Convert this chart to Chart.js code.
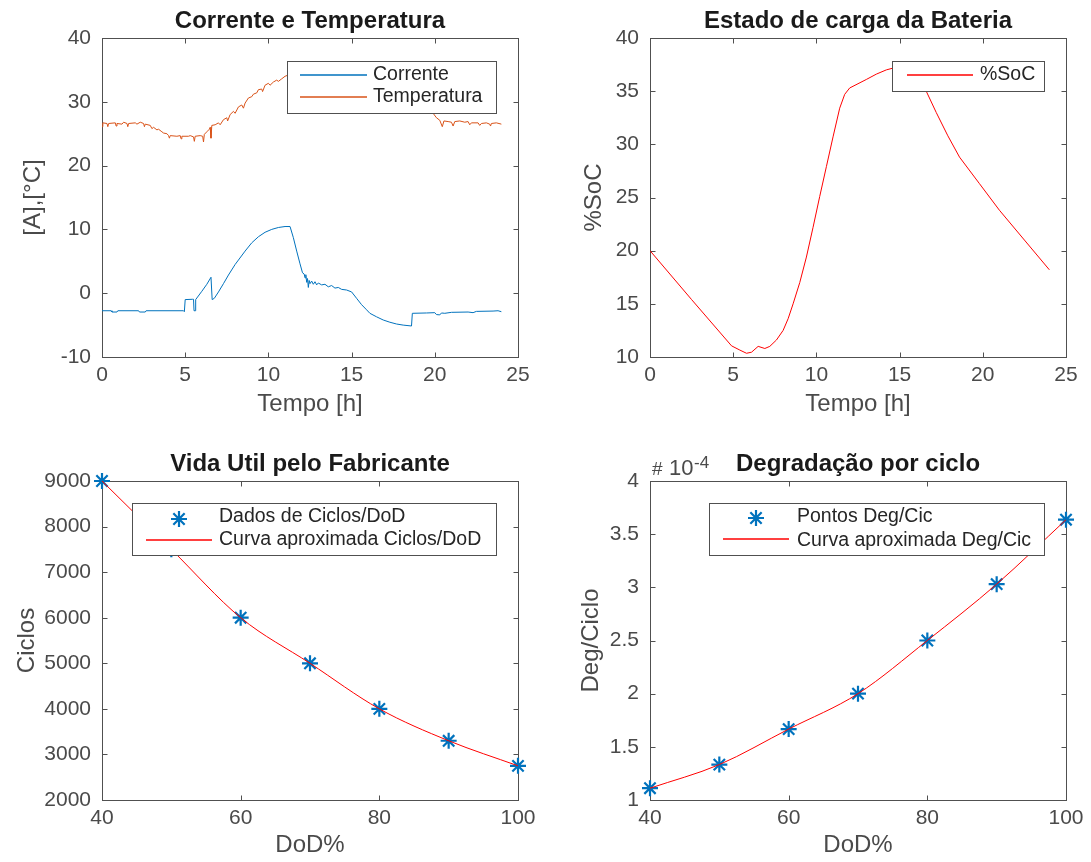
<!DOCTYPE html>
<html lang="pt">
<head>
<meta charset="utf-8">
<title>Bateria – corrente, temperatura, SoC e degradação</title>
<script src="https://cdn.jsdelivr.net/npm/chart.js@4.4.1/dist/chart.umd.min.js"></script>
<style>
  html, body { margin: 0; padding: 0; background: #ffffff; }
  #figura { position: relative; width: 1091px; height: 862px; overflow: hidden; }
  #figura canvas { position: absolute; left: 0; top: 0; }
</style>
</head>
<body>
<div id="figura">
  <canvas id="g1" width="1091" height="862"></canvas>
  <canvas id="g2" width="1091" height="862"></canvas>
  <canvas id="g3" width="1091" height="862"></canvas>
  <canvas id="g4" width="1091" height="862"></canvas>
</div>
<script>
// ---- Dados: corrente e temperatura ao longo do dia ----
const horaCorrente = [0.0, 0.55, 0.6, 0.9, 0.95, 2.2, 2.25, 2.6, 2.65, 4.9, 4.95, 5.0, 5.45, 5.5, 5.53, 5.6, 5.63,
  6.0, 6.3, 6.55, 6.62, 6.75, 7.0, 7.3, 7.6, 8.0, 8.2, 8.6, 9.0, 9.4, 9.8, 10.2, 10.6, 11.0, 11.3, 11.5, 11.7, 11.9,
  12.05, 12.15, 12.2, 12.25, 12.3, 12.35, 12.4, 12.45, 12.5, 12.6, 12.7, 12.8, 12.9, 13.0, 13.2, 13.4, 13.6, 13.8,
  14.0, 14.2, 14.4, 14.7, 15.0, 15.3, 15.6, 15.9, 16.1, 16.5, 16.9, 17.3, 17.7, 18.1, 18.6, 18.65, 19.5, 20.0, 20.1,
  20.3, 20.4, 20.6, 21.0, 22.0, 22.3, 22.5, 23.5, 23.8, 24.0];
const corrente = [-2.75, -2.75, -2.95, -2.95, -2.75, -2.75, -2.95, -2.95, -2.75, -2.75, -2.9, -1.0, -0.95, -0.95, -2.75, -2.75, -1.0,
  0.3, 1.4, 2.5, -1.0, -0.8, 0.2, 1.5, 2.85, 4.5, 5.2, 6.6, 7.9, 8.85, 9.55, 10.0, 10.3, 10.45, 10.45, 8.7, 6.6, 4.6,
  3.2, 3.0, 2.4, 2.9, 1.7, 2.3, 0.9, 2.0, 1.5, 1.9, 1.4, 1.8, 1.3, 1.6, 1.3, 1.4, 1.0, 1.2,
  0.8, 0.9, 0.6, 0.5, 0.2, -0.8, -1.8, -2.6, -3.15, -3.7, -4.2, -4.55, -4.83, -5.0, -5.14, -3.15, -3.1, -3.05, -3.35,
  -3.4, -3.1, -3.15, -3.0, -2.95, -3.05, -2.85, -2.8, -2.75, -2.9];

const horaTemperatura = [0.0, 0.05, 0.3, 0.35, 0.4, 0.8, 0.85, 0.9, 1.2, 1.3, 1.5, 1.55, 1.6, 2.0, 2.1, 2.3, 2.5, 2.55, 2.6,
  2.9, 3.0, 3.1, 3.3, 3.4, 3.6, 3.7, 3.9, 4.0, 4.05, 4.1, 4.5, 4.7, 4.75, 4.8, 5.2, 5.3, 5.5, 5.55, 5.6, 5.9, 6.05, 6.1,
  6.15, 6.3, 6.45, 6.5, 6.55, 6.6, 6.8, 7.0, 7.1, 7.3, 7.5, 7.55, 7.7, 7.9, 8.0, 8.2, 8.4, 8.5, 8.6, 8.8, 9.0, 9.1,
  9.3, 9.4, 9.6, 9.65, 9.8, 10.0, 10.1, 10.3, 10.5, 10.6, 10.8, 11.0, 11.2, 12.0, 13.0, 14.0, 15.0, 16.0, 17.0, 18.0,
  19.0, 19.7, 19.9, 20.1, 20.3, 20.45, 20.55, 20.8, 21.0, 21.1, 21.2, 21.5, 21.8, 22.0, 22.1, 22.2, 22.6, 22.7, 22.8,
  23.1, 23.3, 23.35, 23.4, 23.7, 24.0];
const temperatura = [26.1, 26.7, 26.6, 26.1, 26.6, 26.7, 26.2, 26.6, 26.5, 26.8, 26.6, 26.1, 26.6, 26.7, 26.5, 26.8, 26.6, 26.1, 26.5,
  26.3, 25.8, 26.0, 25.6, 25.7, 25.3, 25.1, 25.0, 24.7, 24.3, 24.7, 24.6, 24.7, 24.2, 24.6, 24.6, 24.7, 24.5, 23.8, 24.6, 24.7, 24.6, 23.7,
  24.9, 25.3, 25.7, 26.0, 24.3, 26.3, 26.4, 26.7, 26.4, 27.2, 27.5, 27.0, 28.0, 28.5, 28.2, 29.2, 29.5, 29.0, 29.8, 30.6, 30.8, 31.2,
  31.4, 31.9, 32.0, 31.6, 32.6, 32.9, 32.6, 33.1, 33.4, 33.2, 33.6, 34.0, 34.2, 34.6, 35.0, 35.2, 34.9, 34.0, 32.6, 31.0,
  29.6, 28.6, 28.2, 27.5, 27.1, 26.1, 27.0, 26.9, 26.8, 26.2, 26.9, 27.0, 26.8, 26.9, 26.4, 26.7, 26.7, 26.3, 26.6,
  26.7, 26.5, 26.2, 26.6, 26.7, 26.5];

// ---- Dados: estado de carga ----
const horaSoC = [0, 2.5, 4.9, 5.4, 5.8, 6.1, 6.5, 6.9, 7.2, 7.6, 8.0, 8.3, 8.6, 9.0, 9.4, 9.8, 10.2, 10.6, 11.0, 11.4,
  11.7, 12.0, 12.5, 13.0, 13.6, 14.2, 14.8, 15.4, 16.0, 16.6, 17.2, 17.9, 18.6, 19.8, 21.0, 22.5, 24.0];
const estadoCarga = [20.0, 15.4, 11.05, 10.65, 10.35, 10.45, 11.0, 10.8, 11.0, 11.6, 12.5, 13.6, 15.0, 17.0, 19.4, 22.2, 25.1, 27.9, 30.7, 33.4,
  34.7, 35.3, 35.7, 36.1, 36.6, 37.0, 37.25, 37.2, 36.3, 35.0, 33.0, 30.8, 28.8, 26.3, 23.8, 21.0, 18.2];

// ---- Dados: vida útil e degradação por profundidade de descarga ----
const dod = [40, 50, 60, 70, 80, 90, 100];
const ciclos = [9000, 7500, 6000, 5000, 4000, 3300, 2750];
const ciclosCurva = [9000, 7500, 6000, 5000, 4000, 3300, 2750];
const degradacao = [1.111, 1.333, 1.667, 2.000, 2.500, 3.030, 3.636];      // × 10^-4
const degradacaoCurva = [1.111, 1.333, 1.667, 2.000, 2.500, 3.030, 3.636]; // × 10^-4

// ---- Marcas dos eixos ----
const ticksTempo = [0, 5, 10, 15, 20, 25];
const ticksCorrTemp = [-10, 0, 10, 20, 30, 40];
const ticksSoC = [10, 15, 20, 25, 30, 35, 40];
const ticksDoD = [40, 60, 80, 100];
const ticksCiclos = [2000, 3000, 4000, 5000, 6000, 7000, 8000, 9000];
const ticksDeg = [1, 1.5, 2, 2.5, 3, 3.5, 4];

const pares = (xs, ys) => xs.map((x, i) => ({ x, y: ys[i] }));

const FONTE = 'Liberation Sans, Arial, Helvetica, sans-serif';
const COR_EIXO = '#505050';
const COR_TEXTO = '#4a4a4a';
const AZUL = '#0072BD';
const LARANJA = '#D95319';
const VERMELHO = '#FF0000';
const TAM_ROTULO = 24;

// Caixa, marcas internas e título no estilo MATLAB
const eixosCaixa = {
  id: 'eixosCaixa',
  beforeDatasetsDraw(chart) {
    const { ctx, chartArea: a, scales: { x, y } } = chart;
    const L = 5;
    ctx.save();
    ctx.strokeStyle = COR_EIXO;
    ctx.lineWidth = 1;
    const l = Math.round(a.left) + 0.5, r = Math.round(a.right) + 0.5;
    const t = Math.round(a.top) + 0.5, b = Math.round(a.bottom) + 0.5;
    ctx.strokeRect(l, t, r - l, b - t);
    ctx.beginPath();
    x.ticks.forEach(tk => {
      const px = Math.round(x.getPixelForValue(tk.value)) + 0.5;
      ctx.moveTo(px, b); ctx.lineTo(px, b - L);
      ctx.moveTo(px, t); ctx.lineTo(px, t + L);
    });
    y.ticks.forEach(tk => {
      const py = Math.round(y.getPixelForValue(tk.value)) + 0.5;
      ctx.moveTo(l, py); ctx.lineTo(l + L, py);
      ctx.moveTo(r, py); ctx.lineTo(r - L, py);
    });
    ctx.stroke();
    ctx.restore();
  },
  afterDraw(chart, args, opts) {
    const { ctx, chartArea: a } = chart;
    ctx.save();
    if (opts.titulo) {
      ctx.font = 'bold 24px ' + FONTE;
      ctx.fillStyle = '#1a1a1a';
      ctx.textAlign = 'center';
      ctx.textBaseline = 'alphabetic';
      ctx.fillText(opts.titulo, (a.left + a.right) / 2, a.top - 10);
    }
    if (opts.expoente) {
      const e = opts.expoente;
      ctx.fillStyle = COR_TEXTO;
      ctx.textAlign = 'left';
      ctx.textBaseline = 'alphabetic';
      ctx.font = '19px ' + FONTE;
      ctx.fillText('#', e.x, e.y);
      ctx.font = '22px ' + FONTE;
      ctx.fillText('10', e.x + 17, e.y);
      ctx.font = '17px ' + FONTE;
      ctx.fillText('-4', e.x + 42, e.y - 7);
    }
    ctx.restore();
  }
};

// Legenda em caixa branca, desenhada sobre as curvas
const legendaCaixa = {
  id: 'legendaCaixa',
  afterDraw(chart, args, opts) {
    if (!opts || !opts.caixa) return;
    const { ctx } = chart;
    const [x0, y0, x1, y1] = opts.caixa;
    ctx.save();
    ctx.fillStyle = '#ffffff';
    ctx.fillRect(x0, y0, x1 - x0, y1 - y0);
    ctx.strokeStyle = COR_EIXO;
    ctx.lineWidth = 1;
    ctx.strokeRect(Math.round(x0) + 0.5, Math.round(y0) + 0.5, Math.round(x1 - x0), Math.round(y1 - y0));
    opts.itens.forEach(it => {
      const meta = chart.getDatasetMeta(it.ds);
      const ds = chart.data.datasets[it.ds];
      const [ax0, ax1] = opts.amostra;
      if (!ds.showLine) {
        const po = meta.data[0].options;
        ctx.strokeStyle = po.borderColor;
        ctx.fillStyle = po.backgroundColor;
        ctx.lineWidth = po.borderWidth;
        Chart.helpers.drawPoint(ctx, { pointStyle: po.pointStyle, radius: po.radius, borderWidth: po.borderWidth, rotation: 0 }, (ax0 + ax1) / 2, it.y);
      } else {
        // amostra da linha, com o mesmo traço suave das curvas
        const lo = meta.dataset.options;
        ctx.beginPath();
        ctx.strokeStyle = lo.borderColor;
        ctx.lineWidth = 1.3;
        ctx.moveTo(ax0, Math.round(it.y));
        ctx.lineTo(ax1, Math.round(it.y));
        ctx.stroke();
      }
      ctx.fillStyle = '#262626';
      ctx.font = '19.5px ' + FONTE;
      ctx.textAlign = 'left';
      ctx.textBaseline = 'alphabetic';
      ctx.fillText(ds.label, opts.textoX, it.base);
    });
    ctx.restore();
  }
};

// Eixo linear com marcas fixas, largura/altura fixas para posicionar a área de plotagem
function eixo(min, max, marcas, titulo, tamanho, horizontal) {
  return {
    type: 'linear',
    min, max,
    afterBuildTicks: s => { s.ticks = marcas.map(v => ({ value: v })); },
    afterFit: s => { if (horizontal) s.height = tamanho; else s.width = tamanho; },
    grid: { display: false, drawTicks: false },
    border: { display: false },
    ticks: {
      color: COR_TEXTO,
      font: { family: FONTE, size: 21 },
      padding: horizontal ? 6 : 11,
      callback: v => String(v)
    },
    title: {
      display: true, text: titulo, color: COR_TEXTO, padding: 0,
      font: { family: FONTE, size: TAM_ROTULO, lineHeight: 1.2 }
    }
  };
}

function base(area, yTitleX, xTitleY, yMin, yMax, yMarcas, yTitulo, xMin, xMax, xMarcas, xTitulo) {
  // area = [esquerda, topo, direita, base] da área de plotagem, em px
  const half = TAM_ROTULO * 1.2 / 2;
  const padLeft = yTitleX - half;
  const yWidth = area[0] - padLeft;
  const xBottom = xTitleY + half;
  const xHeight = xBottom - area[3];
  return {
    layout: { padding: { left: padLeft, top: area[1], right: 1091 - area[2], bottom: 862 - xBottom } },
    scales: {
      x: eixo(xMin, xMax, xMarcas, xTitulo, xHeight, true),
      y: eixo(yMin, yMax, yMarcas, yTitulo, yWidth, false)
    }
  };
}

Chart.defaults.font.family = FONTE;

function criar(id, datasets, cfg, plugOpts) {
  return new Chart(document.getElementById(id), {
    type: 'scatter',
    data: { datasets },
    options: {
      responsive: false,
      animation: false,
      events: [],
      layout: cfg.layout,
      scales: cfg.scales,
      plugins: {
        legend: { display: false },
        tooltip: { enabled: false },
        title: { display: false },
        eixosCaixa: plugOpts.eixos,
        legendaCaixa: plugOpts.legenda
      }
    },
    plugins: [eixosCaixa, legendaCaixa]
  });
}

const linha = (label, data, cor, extra) => Object.assign({
  label, data, showLine: true, borderColor: cor, backgroundColor: cor,
  borderWidth: 1, pointRadius: 0, tension: 0, fill: false
}, extra || {});

const estrelas = (label, data) => ({
  label, data, showLine: false, pointStyle: 'star', pointRadius: 8, pointBorderWidth: 2.2,
  borderWidth: 2.2, borderColor: AZUL, backgroundColor: AZUL, pointBorderColor: AZUL, clip: false, order: 2
});

// Corrente e Temperatura
criar('g1', [
  linha('Corrente', pares(horaCorrente, corrente), AZUL),
  linha('Temperatura', pares(horaTemperatura, temperatura), LARANJA)
], base([102, 38, 518, 357], 33, 404, -10, 40, ticksCorrTemp, '[A],[°C]', 0, 25, ticksTempo, 'Tempo [h]'), {
  eixos: { titulo: 'Corrente e Temperatura' },
  legenda: {
    caixa: [287, 61, 496, 113], amostra: [300, 367], textoX: 373,
    itens: [{ ds: 0, y: 75, base: 80 }, { ds: 1, y: 97, base: 102 }]
  }
});

// Estado de carga
criar('g2', [
  linha('%SoC', pares(horaSoC, estadoCarga), VERMELHO)
], base([650, 38, 1066, 357], 594, 404, 10, 40, ticksSoC, '%SoC', 0, 25, ticksTempo, 'Tempo [h]'), {
  eixos: { titulo: 'Estado de carga da Bateria' },
  legenda: {
    caixa: [892, 61, 1044, 91], amostra: [907, 973], textoX: 980,
    itens: [{ ds: 0, y: 75, base: 80 }]
  }
});

// Vida útil
criar('g3', [
  estrelas('Dados de Ciclos/DoD', pares(dod, ciclos)),
  linha('Curva aproximada Ciclos/DoD', pares(dod, ciclosCurva), VERMELHO, { cubicInterpolationMode: 'monotone', order: 1 })
], base([102, 481, 518, 800], 27, 845, 2000, 9000, ticksCiclos, 'Ciclos', 40, 100, ticksDoD, 'DoD%'), {
  eixos: { titulo: 'Vida Util pelo Fabricante' },
  legenda: {
    caixa: [132, 503, 496, 555], amostra: [146, 212], textoX: 219,
    itens: [{ ds: 0, y: 519, base: 522 }, { ds: 1, y: 540, base: 545 }]
  }
});

// Degradação por ciclo
criar('g4', [
  estrelas('Pontos Deg/Cic', pares(dod, degradacao)),
  linha('Curva aproximada Deg/Cic', pares(dod, degradacaoCurva), VERMELHO, { cubicInterpolationMode: 'monotone', order: 1 })
], base([650, 481, 1066, 800], 591, 845, 1, 4, ticksDeg, 'Deg/Ciclo', 40, 100, ticksDoD, 'DoD%'), {
  eixos: { titulo: 'Degradação por ciclo', expoente: { x: 652, y: 475 } },
  legenda: {
    caixa: [709, 503, 1044, 555], amostra: [723, 789], textoX: 797,
    itens: [{ ds: 0, y: 518, base: 522 }, { ds: 1, y: 539, base: 546 }]
  }
});
</script>
</body>
</html>
